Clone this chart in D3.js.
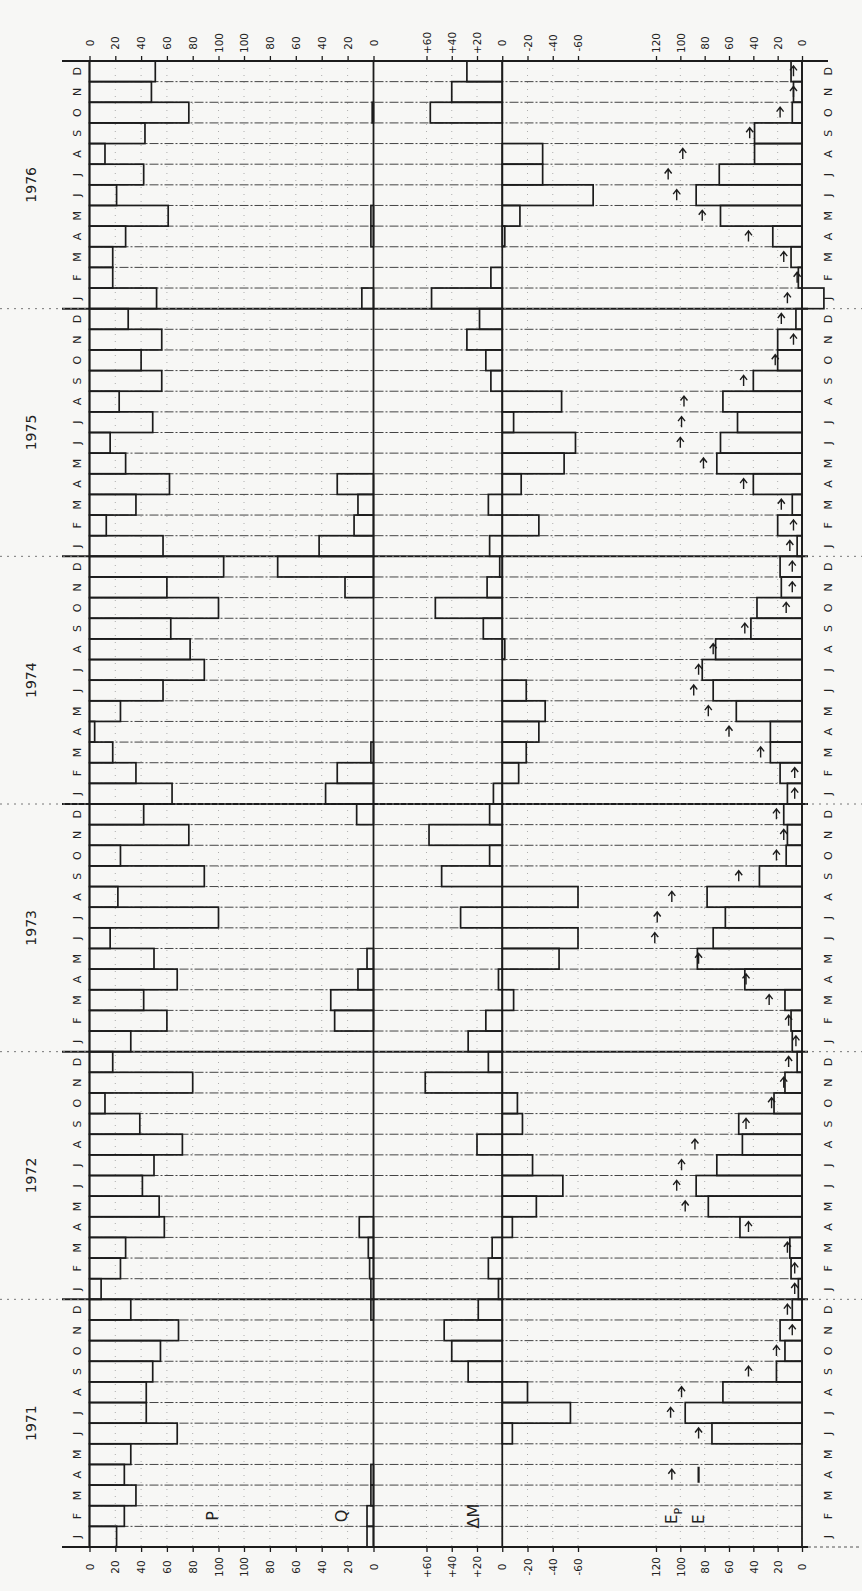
<!DOCTYPE html>
<html>
<head>
<meta charset="utf-8">
<script src="https://cdn.jsdelivr.net/npm/d3@7"></script>
<style>
  body { margin: 0; background: #f7f7f5; }
  svg { display: block; }
  text { font-family: "DejaVu Sans", sans-serif; fill: #222; }
</style>
</head>
<body>
<div id="chart-area"></div>
<script>
const years = [1971, 1972, 1973, 1974, 1975, 1976];
const monthLetters = ["J", "F", "M", "A", "M", "J", "J", "A", "S", "O", "N", "D"];

// monthly values, Jan 1971 .. Dec 1976 (mm)
const precip = [
  21, 27, 36, 27, 32, 68, 44, 44, 49, 55, 69, 32,
  9, 24, 28, 58, 54, 41, 50, 72, 39, 12, 80, 18,
  32, 60, 42, 68, 50, 16, 100, 22, 89, 24, 77, 42,
  64, 36, 18, 4, 24, 57, 89, 78, 63, 100, 60, 104,
  57, 13, 36, 62, 28, 16, 49, 23, 56, 40, 56, 30,
  52, 18, 18, 28, 61, 21, 42, 12, 43, 77, 48, 51
];
const runoff = [
  5, 5, 2, 2, 0, 0, 0, 0, 0, 0, 0, 2,
  2, 3, 4, 11, 0, 0, 0, 0, 0, 0, 0, 0,
  0, 30, 33, 12, 5, 0, 0, 0, 0, 0, 0, 13,
  37, 28, 2, 0, 0, 0, 0, 0, 0, 0, 22, 74,
  42, 15, 12, 28, 0, 0, 0, 0, 0, 0, 0, 0,
  9, 0, 0, 2, 2, 0, 0, 0, 0, 1, 0, 0
];
// storage change, no record before June 1971
const storage = [
  null, null, null, null, null, -8, -54, -20, 27, 40, 46, 19,
  3, 11, 8, -8, -27, -48, -24, 20, -16, -12, 61, 11,
  27, 13, -9, 3, -45, -60, 33, -60, 48, 10, 58, 10,
  7, -13, -19, -29, -34, -19, 0, -2, 15, 53, 12, 2,
  10, -29, 11, -15, -49, -58, -9, -47, 9, 13, 28, 18,
  56, 9, 0, -2, -14, -72, -32, -32, 0, 57, 40, 28
];
const evap = [
  null, null, null, null, null, 74, 96, 65, 21, 14, 18, 8,
  3, 9, 10, 51, 77, 87, 70, 49, 52, 23, 14, 4,
  8, 9, 14, 47, 86, 73, 63, 78, 35, 13, 12, 15,
  12, 18, 26, 26, 54, 73, 82, 71, 42, 37, 17, 18,
  4, 20, 8, 40, 70, 67, 53, 65, 40, 20, 20, 5,
  -18, 3, 9, 24, 67, 87, 68, 39, 39, 8, 7, 9
];
const potEvap = [
  null, null, null, null, null, 85, 108, 99, 44, 21, 8, 12,
  6, 6, 12, 44, 96, 103, 99, 88, 46, 25, 15, 11,
  5, 11, 27, 46, 85, 121, 119, 107, 52, 21, 15, 21,
  6, 6, 34, 60, 77, 89, 85, 73, 47, 13, 8, 8,
  10, 7, 17, 48, 81, 100, 99, 97, 48, 22, 7, 17,
  12, 4, 15, 44, 82, 103, 110, 98, 43, 18, 7, 7
];

const pTicks = [0, 20, 40, 60, 80, 100];
const qTicks = [100, 80, 60, 40, 20, 0];
const mTicks = [60, 40, 20, 0, -20, -40, -60];
const eTicks = [120, 100, 80, 60, 40, 20, 0];

// SETUP
const width = 862;
const height = 1591;
const plotTop = 61;
const plotBottom = 1547;

const svg = d3
  .select("#chart-area")
  .append("svg")
  .attr("width", width)
  .attr("height", height);

// time runs upward, values run across
const y = d3.scaleBand().domain(d3.range(72)).range([plotBottom, plotTop]);
const bw = y.bandwidth();
const edge = i => (i < 72 ? y(i) + bw : y(71));

const xP = d3.scaleLinear().domain([0, 100]).range([89.5, 218.5]);
const xQ = d3.scaleLinear().domain([0, 100]).range([373.5, 244]);
const xM = d3.scaleLinear().domain([60, -60]).range([426.5, 578]);
const xE = d3.scaleLinear().domain([0, 120]).range([802, 656]);

const ink = "#1c1c1c";

// faint vertical grid
const gridX = pTicks.map(xP).concat(qTicks.map(xQ), mTicks.map(xM), eTicks.map(xE));
svg
  .append("g")
  .selectAll("line")
  .data(gridX)
  .join("line")
  .attr("x1", d => d)
  .attr("x2", d => d)
  .attr("y1", plotTop)
  .attr("y2", plotBottom)
  .attr("stroke", "#9a9a9a")
  .attr("stroke-width", 0.8)
  .attr("stroke-dasharray", "1,6");

// month lines (dash-dot)
svg
  .append("g")
  .selectAll("line")
  .data(d3.range(1, 72).filter(i => i % 12 != 0))
  .join("line")
  .attr("x1", xP(0))
  .attr("x2", xE(0))
  .attr("y1", i => edge(i))
  .attr("y2", i => edge(i))
  .attr("stroke", "#444")
  .attr("stroke-width", 1)
  .attr("stroke-dasharray", "9,2,2,2");

// year lines
const yearEdges = d3.range(0, 73, 12);
const yl = svg.append("g");
yl.selectAll(".solid")
  .data(yearEdges)
  .join("line")
  .attr("class", "solid")
  .attr("x1", 62)
  .attr("x2", i => (i == 72 ? 828 : 808))
  .attr("y1", i => edge(i))
  .attr("y2", i => edge(i))
  .attr("stroke", ink)
  .attr("stroke-width", 2);
yl.selectAll(".ext")
  .data(yearEdges.filter(i => i > 0 && i < 72))
  .join("line")
  .attr("class", "ext")
  .attr("x1", 0)
  .attr("x2", width)
  .attr("y1", i => edge(i))
  .attr("y2", i => edge(i))
  .attr("stroke", "#777")
  .attr("stroke-width", 1)
  .attr("stroke-dasharray", "2,5");
yl.append("line")
  .attr("x1", 808)
  .attr("x2", 860)
  .attr("y1", edge(0))
  .attr("y2", edge(0))
  .attr("stroke", "#555")
  .attr("stroke-dasharray", "3,3");

// bars
const idx = d3.range(72);
const bars = svg.append("g").attr("fill", "none").attr("stroke", ink).attr("stroke-width", 1.7);

bars.selectAll(".p")
  .data(idx)
  .join("rect")
  .attr("class", "p")
  .attr("x", xP(0))
  .attr("y", i => y(i))
  .attr("width", i => xP(precip[i]) - xP(0))
  .attr("height", bw);

bars.selectAll(".q")
  .data(idx.filter(i => runoff[i] > 0))
  .join("rect")
  .attr("class", "q")
  .attr("x", i => xQ(runoff[i]))
  .attr("y", i => y(i))
  .attr("width", i => xQ(0) - xQ(runoff[i]))
  .attr("height", bw);

bars.selectAll(".m")
  .data(idx.filter(i => storage[i] != null && storage[i] != 0))
  .join("rect")
  .attr("class", "m")
  .attr("x", i => Math.min(xM(0), xM(storage[i])))
  .attr("y", i => y(i))
  .attr("width", i => Math.abs(xM(storage[i]) - xM(0)))
  .attr("height", bw);

bars.selectAll(".e")
  .data(idx.filter(i => evap[i] != null))
  .join("rect")
  .attr("class", "e")
  .attr("x", i => Math.min(xE(0), xE(evap[i])))
  .attr("y", i => y(i))
  .attr("width", i => Math.abs(xE(0) - xE(evap[i])))
  .attr("height", bw);

// potential evaporation arrows
svg
  .append("g")
  .selectAll("path")
  .data(idx.filter(i => potEvap[i] != null))
  .join("path")
  .attr("d", i => {
    const x = xE(potEvap[i]);
    const c = y(i) + bw / 2;
    return `M${x},${c + 5}V${c - 5}M${x - 3.5},${c - 1}L${x},${c - 5.5}L${x + 3.5},${c - 1}`;
  })
  .attr("fill", "none")
  .attr("stroke", ink)
  .attr("stroke-width", 1.4);

// frame lines
svg
  .append("g")
  .selectAll("line")
  .data([xP(0), xQ(0), xM(0), xE(0)])
  .join("line")
  .attr("x1", d => d)
  .attr("x2", d => d)
  .attr("y1", plotTop)
  .attr("y2", plotBottom)
  .attr("stroke", ink)
  .attr("stroke-width", 1.8);

svg.append("line")
  .attr("x1", 65).attr("x2", 828)
  .attr("y1", plotTop).attr("y2", plotTop)
  .attr("stroke", ink).attr("stroke-width", 1.8);

// axes top and bottom
const fmtM = d => (d > 0 ? "+" + d : "" + d);
const axisDefs = [
  { s: xP, t: pTicks, f: d => d },
  { s: xQ, t: qTicks, f: d => d },
  { s: xM, t: mTicks, f: fmtM },
  { s: xE, t: eTicks, f: d => d }
];

axisDefs.forEach(a => {
  const b = svg
    .append("g")
    .attr("transform", `translate(0,${plotBottom})`)
    .call(d3.axisBottom(a.s).tickValues(a.t).tickFormat(a.f).tickSize(5).tickSizeOuter(0));
  b.select(".domain").remove();
  b.selectAll("line").attr("stroke", ink).attr("stroke-width", 1.3);
  b.selectAll("text")
    .attr("transform", "rotate(-90)")
    .attr("x", -20)
    .attr("y", 0)
    .attr("dy", "0.35em")
    .attr("text-anchor", "middle")
    .attr("font-size", 10.5)
    .attr("fill", "#222");

  const t = svg
    .append("g")
    .attr("transform", `translate(0,${plotTop})`)
    .call(d3.axisTop(a.s).tickValues(a.t).tickFormat(a.f).tickSize(5).tickSizeOuter(0));
  t.select(".domain").remove();
  t.selectAll("line").attr("stroke", ink).attr("stroke-width", 1.3);
  t.selectAll("text")
    .attr("transform", "rotate(-90)")
    .attr("x", 18)
    .attr("y", 0)
    .attr("dy", "0.35em")
    .attr("text-anchor", "middle")
    .attr("font-size", 10.5)
    .attr("fill", "#333");
});

// month letters both sides
[77, 828].forEach(mx => {
  svg
    .append("g")
    .selectAll("text")
    .data(idx)
    .join("text")
    .attr("transform", i => `translate(${mx},${y(i) + bw / 2}) rotate(-90)`)
    .attr("dy", "0.35em")
    .attr("text-anchor", "middle")
    .attr("font-size", 11)
    .text(i => monthLetters[i % 12]);
});

// year labels
svg
  .append("g")
  .selectAll("text")
  .data(years)
  .join("text")
  .attr("transform", (d, k) => `translate(31,${edge(k * 12 + 6)}) rotate(-90)`)
  .attr("dy", "0.35em")
  .attr("text-anchor", "middle")
  .attr("font-size", 14)
  .text(d => d);

// panel labels
const panelY = y(1) + bw / 2;
[
  { x: xP(95), t: "P" },
  { x: xQ(25), t: "Q" },
  { x: xM(23), t: "ΔM" }
].forEach(p => {
  svg.append("text")
    .attr("transform", `translate(${p.x},${panelY}) rotate(-90)`)
    .attr("dy", "0.35em")
    .attr("text-anchor", "middle")
    .attr("font-size", 16)
    .text(p.t);
});

// legend
const legY = y(1) + bw / 2;
const lx1 = xE(107);
const lx2 = xE(85);
const ep = svg.append("text")
  .attr("transform", `translate(${lx1},${legY + 8}) rotate(-90)`)
  .attr("dy", "0.35em")
  .attr("font-size", 15);
ep.append("tspan").text("E");
ep.append("tspan").attr("dy", 5).attr("font-size", 11).text("P");

svg.append("text")
  .attr("transform", `translate(${lx2},${legY + 8}) rotate(-90)`)
  .attr("dy", "0.35em")
  .attr("font-size", 15)
  .text("E");

const arrowY = y(3) + bw / 2;
svg.append("path")
  .attr("d", `M${lx1},${arrowY + 5}V${arrowY - 5}M${lx1 - 3.5},${arrowY - 1}L${lx1},${arrowY - 5.5}L${lx1 + 3.5},${arrowY - 1}`)
  .attr("fill", "none")
  .attr("stroke", ink)
  .attr("stroke-width", 1.4);
svg.append("line")
  .attr("x1", lx2).attr("x2", lx2)
  .attr("y1", arrowY - 8).attr("y2", arrowY + 8)
  .attr("stroke", ink)
  .attr("stroke-width", 2.2);
</script>
</body>
</html>
